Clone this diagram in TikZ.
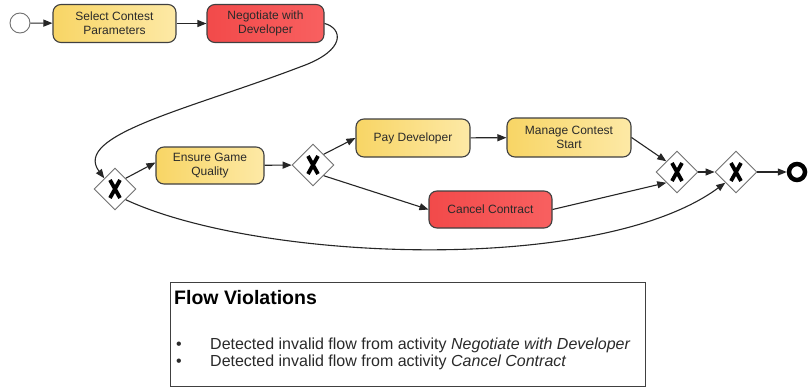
\documentclass[tikz,border=0pt]{standalone}
\usepackage{fontspec}
\setmainfont{Liberation Sans}
\usetikzlibrary{shapes.geometric,arrows.meta}
\definecolor{yelA}{HTML}{F8D565}
\definecolor{yelB}{HTML}{FDE9A6}
\definecolor{redA}{HTML}{F24A4A}
\definecolor{redB}{HTML}{F86060}
\definecolor{edgeC}{HTML}{404040}
\definecolor{gwC}{HTML}{707070}
\definecolor{txtC}{HTML}{2A2A2A}
\tikzset{
  task/.style={draw=edgeC, line width=1.1pt, rounded corners=8pt, minimum height=38pt,
    align=center, font=\fontsize{12}{14}\selectfont, text=txtC, inner sep=2pt},
  ytask/.style={task, left color=yelA, right color=yelB},
  rtask/.style={task, left color=redA, right color=redB},
  gw/.style={diamond, draw=gwC, fill=white, line width=0.9pt, minimum size=42pt, inner sep=0pt,
    path picture={
      \draw[line width=3.8pt, black]
        ([shift={(-5pt,-9pt)}]path picture bounding box.center) -- ([shift={(5pt,9pt)}]path picture bounding box.center)
        ([shift={(-5pt,9pt)}]path picture bounding box.center) -- ([shift={(5pt,-9pt)}]path picture bounding box.center);
    }},
  flow/.style={draw=black!85, line width=1.1pt, -{Triangle[length=9pt,width=7pt]}},
  boxtext/.style={anchor=base west, inner sep=0pt, font=\fontsize{16}{18}\selectfont, text=txtC},
}
\begin{document}
\begin{tikzpicture}[x=1pt,y=-1pt]
\useasboundingbox (0,0) rectangle (809,388);
\fill[white] (0,0) rectangle (809,388);

\node[circle, draw=gwC, line width=0.9pt, fill=white, minimum size=20pt, inner sep=0pt] (start) at (20,23) {};
\node[ytask, minimum width=123pt] (sel) at (114.5,23.5) {Select Contest\\Parameters};
\node[rtask, minimum width=117pt] (neg) at (265.5,23.5) {Negotiate with\\Developer};
\node[gw] (g1) at (115,189) {};
\node[ytask, minimum width=108pt, minimum height=37pt] (ens) at (210,165.5) {Ensure Game\\Quality};
\node[gw] (g2) at (313,165) {};
\node[ytask, minimum width=114pt] (pay) at (413,138) {Pay Developer};
\node[ytask, minimum width=124pt, minimum height=39pt] (man) at (569,137.5) {Manage Contest\\Start};
\node[rtask, minimum width=123pt, minimum height=37pt] (can) at (490.5,209.5) {Cancel Contract};
\node[gw] (g3) at (677,172) {};
\node[gw] (g4) at (736,172) {};
\node[circle, draw=black, line width=4.5pt, fill=white, minimum size=16pt, inner sep=0pt] (end) at (797,172) {};

\draw[flow] (start) -- (sel);
\draw[flow] (sel) -- (neg);
\draw[flow] (neg.east) .. controls (342,28) and (348,50) .. (300,67)
   .. controls (190,109) and (72,135) .. (g1.north west);
\draw[flow] (g1.north east) -- ([yshift=3pt]ens.west);
\draw[flow] (ens) -- (g2);
\draw[flow] (g2.north east) -- (pay.west);
\draw[flow] (g2.south east) -- (can.west);
\draw[flow] (pay) -- (man);
\draw[flow] (man.east) -- (g3.north west);
\draw[flow] (can.east) -- (g3.south west);
\draw[flow] (g3) -- (g4);
\draw[flow] (g4) -- (end);
\draw[flow] (g1.south east) .. controls (260,262) and (600,275) .. (g4.south west);

\node[draw=edgeC, line width=1pt, minimum width=475pt, minimum height=104pt, inner sep=0pt] (box) at (407.5,334) {};
\node[anchor=base west, inner sep=0pt, font=\fontsize{19.5}{21}\selectfont\bfseries, text=black] (title) at (174,304) {Flow Violations};
\node[boxtext] (b1) at (176,349) {\textbullet};
\node[boxtext] (l1) at (210,349) {Detected invalid flow from activity \textit{Negotiate with Developer}};
\node[boxtext] (b2) at (176,366) {\textbullet};
\node[boxtext] (l2) at (210,366) {Detected invalid flow from activity \textit{Cancel Contract}};
\end{tikzpicture}
\end{document}
